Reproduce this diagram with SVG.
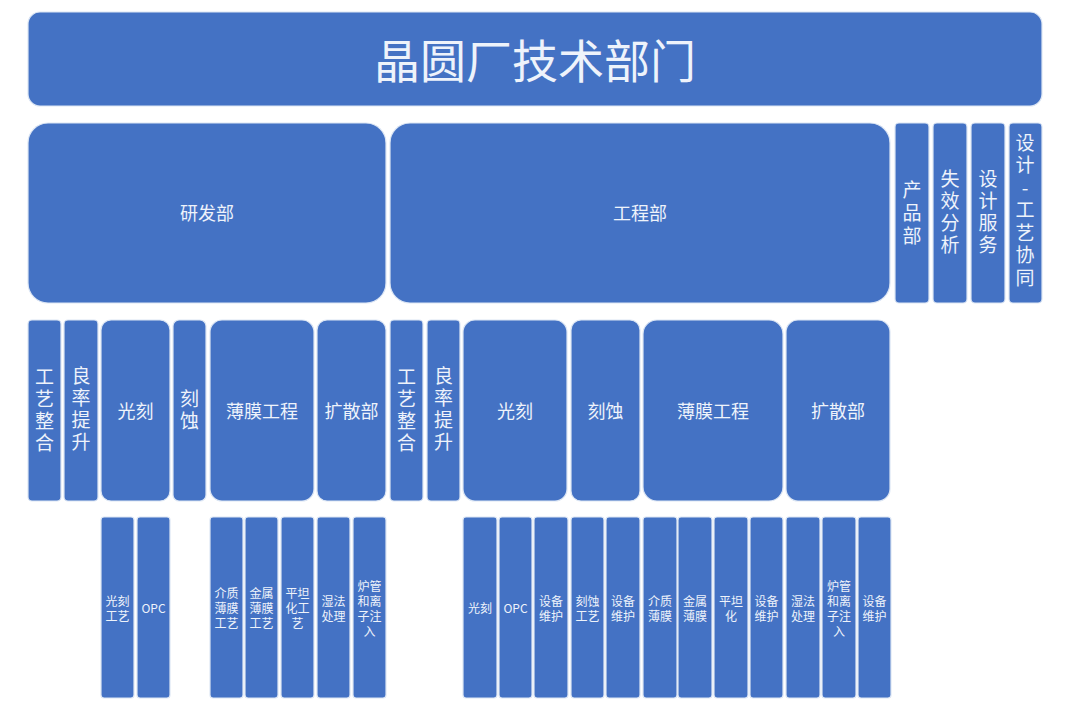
<svg xmlns="http://www.w3.org/2000/svg" width="1080" height="704" viewBox="0 0 1080 704">
<style>
.b{fill:#4472C4;stroke:#dce6f4;stroke-width:1.2}
text{font-family:"Noto Sans CJK SC","Noto Sans",sans-serif;fill:#eef3fb;text-anchor:middle;dominant-baseline:central}
tspan{dominant-baseline:central}
.t{font-size:46px}
.m{font-size:18px}
.v{font-size:19px;writing-mode:vertical-rl;text-orientation:upright;letter-spacing:3px}
.s{font-size:12px}
</style>
<rect width="1080" height="704" fill="#ffffff"/>
<g id="connectors"></g>
<g id="title"><rect class="b" x="28" y="12" width="1014" height="94" rx="12"/><text class="t" x="535" y="58">晶圆厂技术部门</text></g>
<g id="rd"><rect class="b" x="28" y="123" width="358" height="180" rx="20"/><text class="m" x="207" y="212">研发部</text></g>
<g id="eng"><rect class="b" x="390" y="123" width="500" height="180" rx="20"/><text class="m" x="640" y="212">工程部</text></g>
<g id="product"><rect class="b" x="895" y="123" width="34" height="180" rx="4"/><text class="v" x="912" y="215" style="letter-spacing:4px">产品部</text></g>
<g id="fa"><rect class="b" x="933" y="123" width="34" height="180" rx="4"/><text class="v" x="950" y="213">失效分析</text></g>
<g id="ds"><rect class="b" x="971" y="123" width="34" height="180" rx="4"/><text class="v" x="988" y="213">设计服务</text></g>
<g id="dtc"><rect class="b" x="1009" y="123" width="33" height="180" rx="4"/><text class="v" x="1025" y="212" style="letter-spacing:3.5px">设计-工艺协同</text></g>

<g id="rd-pi"><rect class="b" x="28" y="320" width="33" height="181" rx="4"/><text class="v" x="44.5" y="411.5">工艺整合</text></g>
<g id="rd-ye"><rect class="b" x="64" y="320" width="34" height="181" rx="4"/><text class="v" x="81" y="410.5">良率提升</text></g>
<g id="rd-litho"><rect class="b" x="101" y="320" width="69" height="181" rx="10"/><text class="m" x="135.5" y="410">光刻</text></g>
<g id="rd-etch"><rect class="b" x="173" y="320" width="33" height="181" rx="6"/><text class="v" x="189.5" y="411.5">刻蚀</text></g>
<g id="rd-tf"><rect class="b" x="210" y="320" width="104" height="181" rx="12"/><text class="m" x="262" y="410">薄膜工程</text></g>
<g id="rd-diff"><rect class="b" x="317" y="320" width="69" height="181" rx="10"/><text class="m" x="351.5" y="410">扩散部</text></g>

<g id="eng-pi"><rect class="b" x="390" y="320" width="33" height="181" rx="4"/><text class="v" x="406.5" y="411.5">工艺整合</text></g>
<g id="eng-ye"><rect class="b" x="427" y="320" width="33" height="181" rx="4"/><text class="v" x="443.5" y="410.5">良率提升</text></g>
<g id="eng-litho"><rect class="b" x="463" y="320" width="104" height="181" rx="12"/><text class="m" x="515" y="410">光刻</text></g>
<g id="eng-etch"><rect class="b" x="571" y="320" width="69" height="181" rx="10"/><text class="m" x="605.5" y="410">刻蚀</text></g>
<g id="eng-tf"><rect class="b" x="643" y="320" width="140" height="181" rx="14"/><text class="m" x="713" y="410">薄膜工程</text></g>
<g id="eng-diff"><rect class="b" x="786" y="320" width="104" height="181" rx="12"/><text class="m" x="838" y="410">扩散部</text></g>

<g id="rd-litho-proc"><rect class="b" x="101" y="517" width="33" height="181" rx="3"/><text class="s"><tspan x="117.5" y="600">光刻</tspan><tspan x="117.5" y="615">工艺</tspan></text></g>
<g id="rd-opc"><rect class="b" x="137" y="517" width="33" height="181" rx="3"/><text class="s" x="153.5" y="607">OPC</text></g>
<g id="rd-diel"><rect class="b" x="210" y="517" width="33" height="181" rx="3"/><text class="s"><tspan x="226.5" y="592">介质</tspan><tspan x="226.5" y="607">薄膜</tspan><tspan x="226.5" y="622">工艺</tspan></text></g>
<g id="rd-metal"><rect class="b" x="245" y="517" width="33" height="181" rx="3"/><text class="s"><tspan x="261.5" y="592">金属</tspan><tspan x="261.5" y="607">薄膜</tspan><tspan x="261.5" y="622">工艺</tspan></text></g>
<g id="rd-cmp"><rect class="b" x="281" y="517" width="33" height="181" rx="3"/><text class="s"><tspan x="297.5" y="592">平坦</tspan><tspan x="297.5" y="607">化工</tspan><tspan x="297.5" y="622">艺</tspan></text></g>
<g id="rd-wet"><rect class="b" x="317" y="517" width="33" height="181" rx="3"/><text class="s"><tspan x="333.5" y="600">湿法</tspan><tspan x="333.5" y="615">处理</tspan></text></g>
<g id="rd-furn"><rect class="b" x="353" y="517" width="33" height="181" rx="3"/><text class="s"><tspan x="369.5" y="585">炉管</tspan><tspan x="369.5" y="600">和离</tspan><tspan x="369.5" y="615">子注</tspan><tspan x="369.5" y="630">入</tspan></text></g>

<g id="e-litho"><rect class="b" x="463" y="517" width="34" height="181" rx="3"/><text class="s" x="480" y="607">光刻</text></g>
<g id="e-opc"><rect class="b" x="499" y="517" width="33" height="181" rx="3"/><text class="s" x="515.5" y="607">OPC</text></g>
<g id="e-m1"><rect class="b" x="534" y="517" width="34" height="181" rx="3"/><text class="s"><tspan x="551" y="600">设备</tspan><tspan x="551" y="615">维护</tspan></text></g>
<g id="e-etch"><rect class="b" x="571" y="517" width="33" height="181" rx="3"/><text class="s"><tspan x="587.5" y="600">刻蚀</tspan><tspan x="587.5" y="615">工艺</tspan></text></g>
<g id="e-m2"><rect class="b" x="606" y="517" width="34" height="181" rx="3"/><text class="s"><tspan x="623" y="600">设备</tspan><tspan x="623" y="615">维护</tspan></text></g>
<g id="e-diel"><rect class="b" x="643" y="517" width="34" height="181" rx="3"/><text class="s"><tspan x="660" y="600">介质</tspan><tspan x="660" y="615">薄膜</tspan></text></g>
<g id="e-metal"><rect class="b" x="678" y="517" width="34" height="181" rx="3"/><text class="s"><tspan x="695" y="600">金属</tspan><tspan x="695" y="615">薄膜</tspan></text></g>
<g id="e-cmp"><rect class="b" x="714" y="517" width="34" height="181" rx="3"/><text class="s"><tspan x="731" y="600">平坦</tspan><tspan x="731" y="615">化</tspan></text></g>
<g id="e-m3"><rect class="b" x="750" y="517" width="33" height="181" rx="3"/><text class="s"><tspan x="766.5" y="600">设备</tspan><tspan x="766.5" y="615">维护</tspan></text></g>
<g id="e-wet"><rect class="b" x="786" y="517" width="34" height="181" rx="3"/><text class="s"><tspan x="803" y="600">湿法</tspan><tspan x="803" y="615">处理</tspan></text></g>
<g id="e-furn"><rect class="b" x="822" y="517" width="34" height="181" rx="3"/><text class="s"><tspan x="839" y="585">炉管</tspan><tspan x="839" y="600">和离</tspan><tspan x="839" y="615">子注</tspan><tspan x="839" y="630">入</tspan></text></g>
<g id="e-m4"><rect class="b" x="858" y="517" width="33" height="181" rx="3"/><text class="s"><tspan x="874.5" y="600">设备</tspan><tspan x="874.5" y="615">维护</tspan></text></g>
</svg>
